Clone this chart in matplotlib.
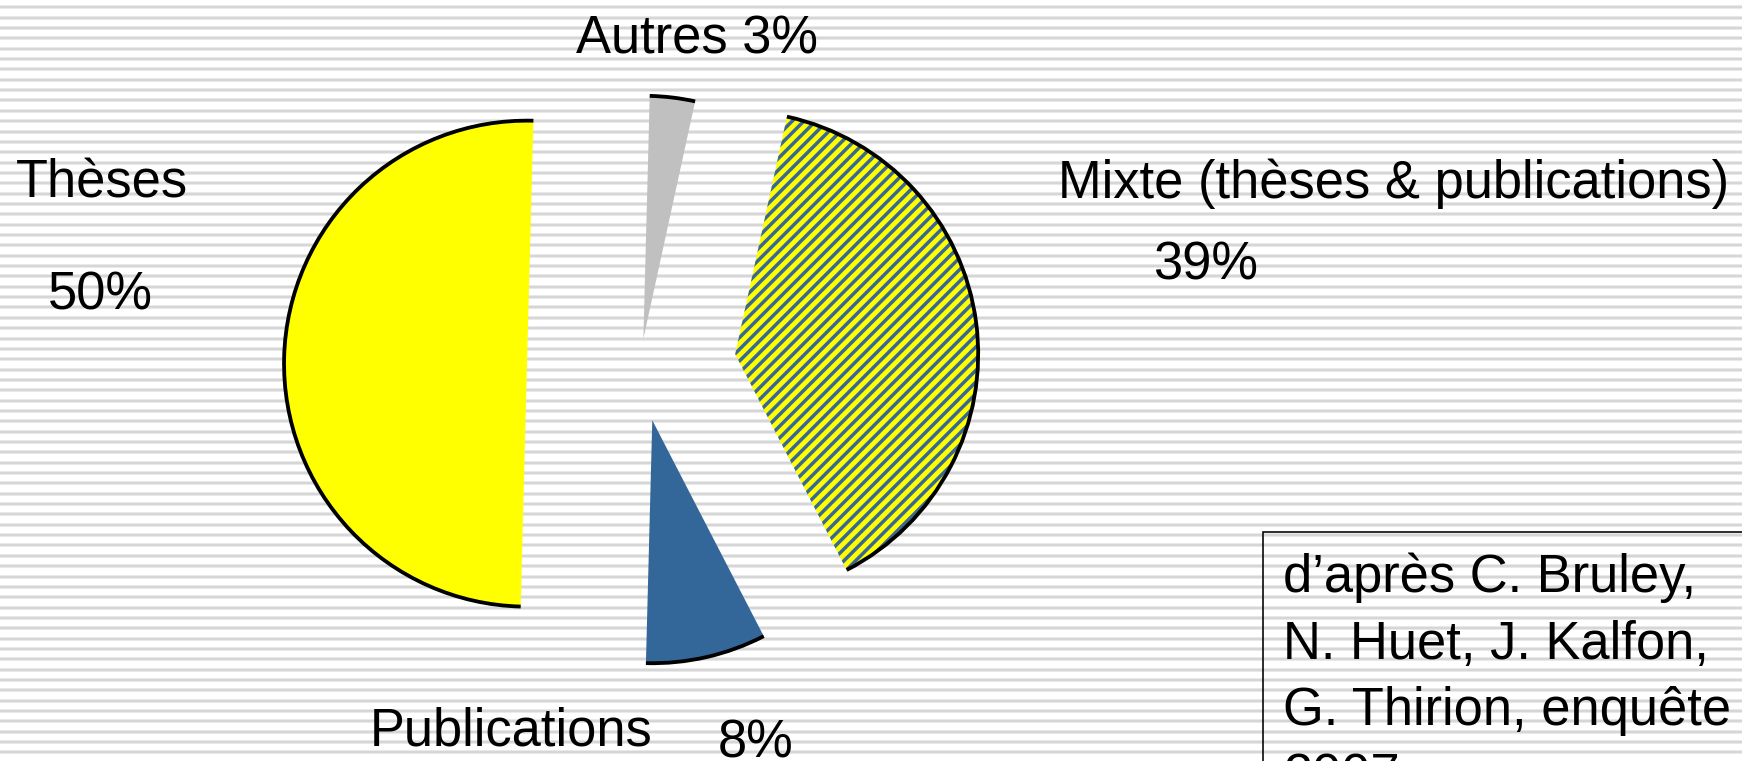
import numpy as np
import matplotlib
matplotlib.use("Agg")
import matplotlib.pyplot as plt
from matplotlib.patches import Arc, Rectangle
from matplotlib.collections import LineCollection

# parts of the survey, clockwise from the top
labels = ["Autres", "Mixte (thèses & publications)", "Publications", "Thèses"]
values = [3, 39, 8, 50]
colors = ["#c0c0c0", "#ffff00", "#336699", "#ffff00"]
source_lines = ["d’après C. Bruley,", "N. Huet, J. Kalfon,", "G. Thirion, enquête", "2007"]

DPI = 70
W, H = 1742, 761
PX = 72 / DPI  # points per pixel
plt.rcParams["font.family"] = ["Liberation Sans", "DejaVu Sans"]

fig = plt.figure(figsize=(W / DPI, H / DPI), dpi=DPI)
fig.patch.set_facecolor("white")
ax = fig.add_axes([0, 0, 1, 1])

# striped background
for k in range(80):
    y = H - (7.3 + 10.35 * k)
    ax.axhline(y, color="#ececec", lw=4.0 * PX, zorder=0)
    ax.axhline(y, color="#d6d6d6", lw=2.2 * PX, zorder=0)

# exploded pie, explode offsets in pixels
center = (640, H - 366.6)
radius = 243
explode = [28, 96, 55, 113]
wedges, _ = ax.pie(values, colors=colors, startangle=88.5, counterclock=False,
                   center=center, radius=radius, explode=explode,
                   wedgeprops=dict(linewidth=0))
for w in wedges:
    w.set_zorder(2)

# diagonal stripes on the "Mixte" slice
mixte = wedges[1]
offsets = np.arange(-1100, 200, 11.7)
segs = [[(0, c), (W, W + c)] for c in offsets]
stripes = LineCollection(segs, colors="#3a6896", linewidths=3.5 * PX, zorder=2.5)
ax.add_collection(stripes)
stripes.set_clip_path(mixte)

# black outline only on the outer arcs
for w in wedges:
    ax.add_patch(Arc(w.center, 2 * w.r, 2 * w.r, theta1=w.theta1, theta2=w.theta2,
                     color="black", lw=3.8 * PX, zorder=3))

ax.set_xlim(0, W)
ax.set_ylim(0, H)
ax.set_position([0, 0, 1, 1])
ax.axis("off")

fs = 54
def label(x, baseline, s):
    ax.text(x, H - baseline, s, fontsize=fs, ha="left", va="baseline", zorder=4)

label(576, 53, f"{labels[0]} {values[0]}%")
label(1058, 198, labels[1])
label(1153, 280, f"{values[1]}%")
label(370, 745, labels[2])
label(718, 757, f"{values[2]}%")
label(16, 198, labels[3])
label(48, 310, f"{values[3]}%")

# source box, running off the page
ax.add_patch(Rectangle((1263, -200), 700, H - 532 + 200, fill=False,
                       edgecolor="black", lw=1.6 * PX, zorder=4))
for i, line in enumerate(source_lines):
    label(1283, 592 + 66.5 * i, line)

fig.savefig("out.png", dpi=DPI)
